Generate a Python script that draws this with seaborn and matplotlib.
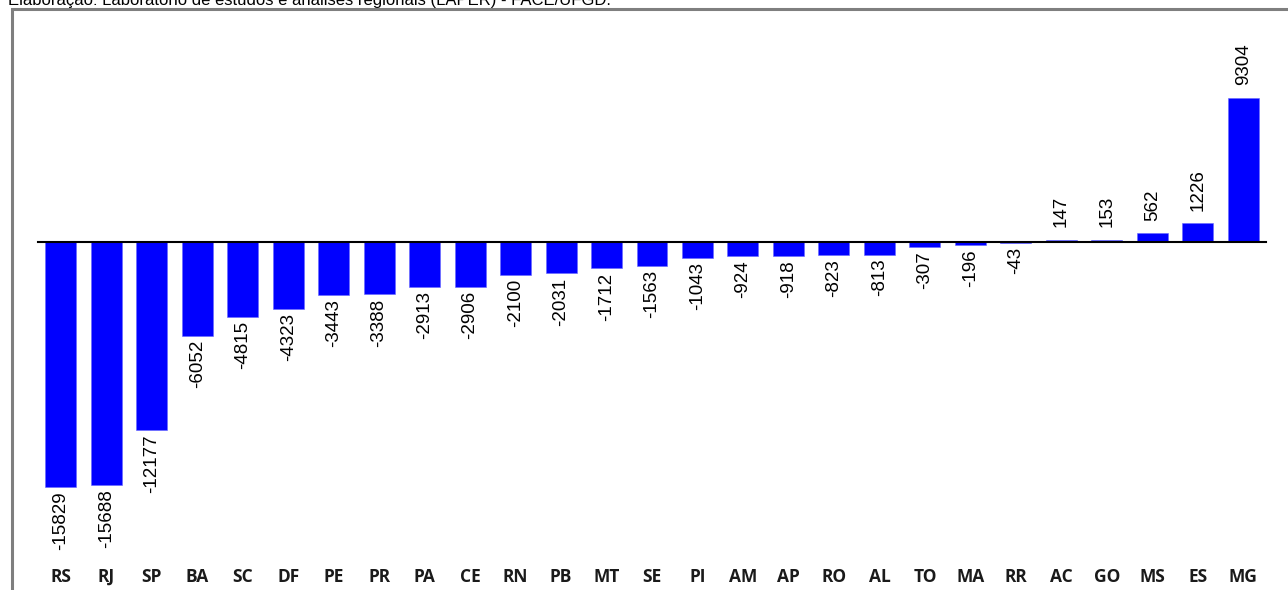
import numpy as np
import pandas as pd
import seaborn as sns
import matplotlib.pyplot as plt
from matplotlib.patches import Rectangle

# saldo por UF (leitura do gráfico)
estados = ['RS', 'RJ', 'SP', 'BA', 'SC', 'DF', 'PE', 'PR', 'PA', 'CE', 'RN', 'PB', 'MT', 'SE',
           'PI', 'AM', 'AP', 'RO', 'AL', 'TO', 'MA', 'RR', 'AC', 'GO', 'MS', 'ES', 'MG']
saldo = [-15829, -15688, -12177, -6052, -4815, -4323, -3443, -3388, -2913, -2906, -2100, -2031,
         -1712, -1563, -1043, -924, -918, -823, -813, -307, -196, -43, 147, 153, 562, 1226, 9304]
fonte = 'Elaboração: Laboratório de estudos e análises regionais (LAPER) - FACE/UFGD.'

df = pd.DataFrame({'UF': estados, 'saldo': saldo})

sns.set_style('white')
plt.rcParams['font.family'] = ['Liberation Sans', 'DejaVu Sans']

W, H = 1288, 590
fig = plt.figure(figsize=(W / 100, H / 100), dpi=100)

# axes: zero line at y=242 px, 9304 at y=98 px
px_per_unit = (242 - 98) / 9304
top_px, bot_px = 30, 560
ymax = (242 - top_px) / px_per_unit
ymin = -(bot_px - 242) / px_per_unit
ax = fig.add_axes([38 / W, 1 - bot_px / H, (1266 - 38) / W, (bot_px - top_px) / H])

sns.barplot(data=df, x='UF', y='saldo', color='#0000FF', saturation=1, width=0.68,
            edgecolor='#6666ff', linewidth=0.4, ax=ax)
ax.set_xlim(-0.5, len(estados) - 0.5)
ax.set_ylim(ymin, ymax)
ax.set_xlabel('')
ax.set_ylabel('')
ax.set_yticks([])

for s in ['top', 'right', 'left']:
    ax.spines[s].set_visible(False)
ax.spines['bottom'].set_position(('data', 0))
ax.spines['bottom'].set_linewidth(1.5)
ax.spines['bottom'].set_color('black')
ax.spines['bottom'].set_zorder(5)

# ticks at category boundaries, labels at bottom
ax.set_xticks(np.arange(-0.5, len(estados)), minor=True)
ax.tick_params(axis='x', which='minor', direction='out', length=4, width=1.5, color='black')
ax.tick_params(axis='x', which='major', length=0, pad=(568 - 242) * 0.72)
for lab in ax.get_xticklabels():
    lab.set_fontfamily(['Open Sans', 'DejaVu Sans'])
    lab.set_fontweight('bold')
    lab.set_fontsize(12.5)
    lab.set_color('#1a1a1a')

# data labels
rot_kw = dict(rotation=90, ha='center', fontsize=13.5, color='black')
for i, v in enumerate(saldo):
    if v >= 0:
        ax.annotate(str(v), (i, v), xytext=(0, 9), textcoords='offset points',
                    va='bottom', **rot_kw)
    else:
        ax.annotate(str(v), (i, v), xytext=(0, -3), textcoords='offset points',
                    va='top', **rot_kw)

# gray frame and source note
fig.patches.append(Rectangle((12 / W, -0.1), 1.2, 1.1 - 9 / H, transform=fig.transFigure,
                             fill=False, edgecolor='#7f7f7f', linewidth=2.2, clip_on=False))
fig.text(8 / W, 1 - 5 / H, fonte, ha='left', va='baseline', fontsize=12, color='black')

fig.savefig('out.png', dpi=100)
